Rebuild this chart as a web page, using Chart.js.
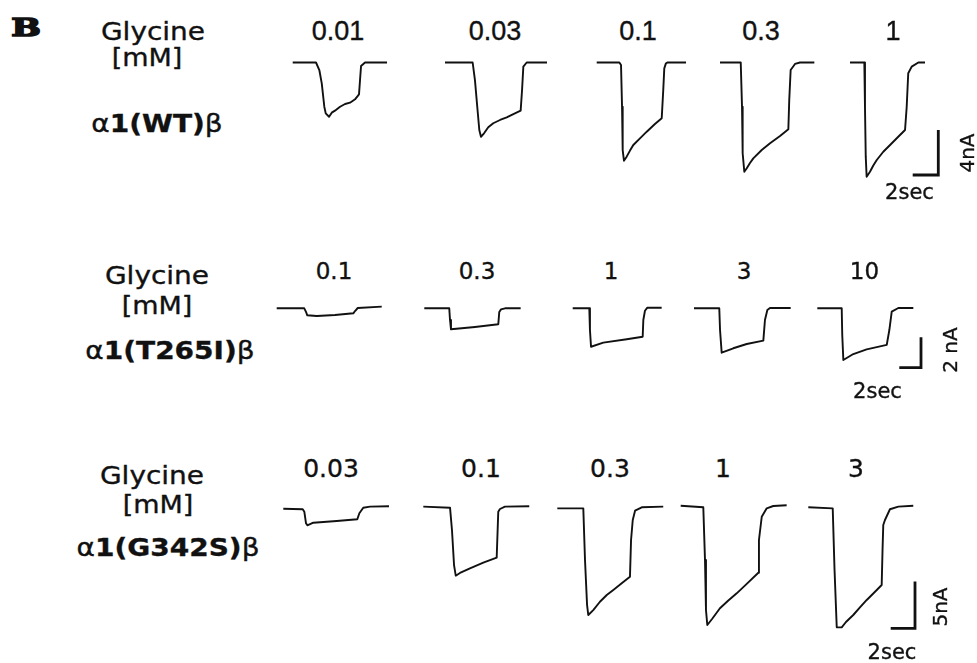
<!DOCTYPE html>
<html>
<head>
<meta charset="utf-8">
<script src="https://cdn.jsdelivr.net/npm/chart.js@4.4.1/dist/chart.umd.min.js"></script>
<style>
  html, body { margin:0; padding:0; background:#fff; }
  #fig { position:relative; width:977px; height:663px; overflow:hidden; background:#fff; }
  #fig canvas { position:absolute; }
  .lbl { position:absolute; white-space:nowrap; color:#111; line-height:1; -webkit-text-stroke:0.35px #111; }
</style>
</head>
<body>
<div id="fig"></div>
<script>
// ---------------- DATA ----------------
// Glycine concentrations (mM) per construct
const wtConc   = ["0.01", "0.03", "0.1", "0.3", "1"];
const t265Conc = ["0.1", "0.3", "1", "3", "10"];
const g342Conc = ["0.03", "0.1", "0.3", "1", "3"];

// Construct names: [plain prefix, bold part, plain suffix]
const constructNames = [["α", "1(WT)", "β"], ["α", "1(T265I)", "β"], ["α", "1(G342S)", "β"]];

// Scale bars per row
const scaleBarSec = [2, 2, 2];
const scaleBarNA  = [4, 2, 5];
const scaleBarNALabels  = ["4nA", "2 nA", "5nA"];
const scaleBarSecLabels = ["2sec", "2sec", "2sec"];

// Current traces: [time (s), current (nA)]
// α1(WT)β
const wt_0_01 = [[0,0],[1.82,0],[2.08,-0.67],[2.27,-1.85],[2.47,-3.93],[2.58,-4.52],[2.84,-4.82],[3.05,-4.46],[3.30,-4.28],[3.70,-3.93],[4.09,-3.69],[4.48,-3.57],[4.87,-3.27],[5.18,-2.83],[5.26,-1.56],[5.34,-0.31],[5.65,0],[7.37,0]];
const wt_0_03 = [[0,0],[2.16,0],[2.34,-1.56],[2.52,-3.93],[2.68,-6.0],[2.81,-6.6],[3.05,-6.29],[3.38,-5.76],[3.77,-5.40],[4.30,-5.11],[4.82,-4.87],[5.34,-4.58],[5.91,-4.28],[6.02,-2.44],[6.12,-0.37],[6.38,0],[7.97,0]];
const wt_0_1  = [[0,0],[1.77,0],[1.90,-0.22],[1.98,-3.93],[2.03,-7.78],[2.13,-8.73],[2.34,-8.37],[2.60,-7.83],[2.86,-7.33],[3.38,-6.74],[3.91,-6.15],[4.55,-5.47],[5.08,-4.96],[5.20,-2.44],[5.28,-0.52],[5.40,-0.10],[5.52,0],[6.98,0]];
const wt_0_3  = [[0,0],[1.62,0],[1.72,-3.93],[1.77,-8.07],[1.90,-9.71],[2.09,-9.40],[2.33,-8.96],[2.60,-8.52],[3.26,-7.78],[3.91,-7.18],[4.69,-6.53],[5.34,-5.94],[5.41,-3.33],[5.52,-0.67],[5.86,-0.13],[6.25,0],[7.37,0]];
const wt_1    = [[0,0],[1.12,0],[1.17,-3.93],[1.23,-8.37],[1.30,-10.15],[1.56,-9.71],[1.82,-9.16],[2.09,-8.67],[2.60,-7.93],[3.13,-7.33],[3.77,-6.60],[4.30,-6.00],[4.43,-3.93],[4.55,-0.96],[4.82,-0.37],[5.34,0],[5.86,0]];
// α1(T265I)β
const t265_0_1 = [[0,0],[2.54,0],[2.70,-0.24],[2.82,-0.46],[3.69,-0.51],[5.37,-0.44],[7.06,-0.33],[7.22,-0.18],[7.47,0.02],[9.68,0.11]];
const t265_0_3 = [[0,0],[2.30,0],[2.37,-0.77],[2.46,-1.38],[4.67,-1.23],[6.82,-1.05],[6.91,-0.24],[7.07,-0.07],[7.44,0],[8.88,0]];
const t265_1   = [[0,0],[1.53,0],[1.59,-1.43],[1.69,-2.53],[2.82,-2.26],[4.98,-2.04],[6.45,-1.87],[6.51,-0.77],[6.66,-0.16],[6.88,0.04],[8.20,0.04]];
const t265_3   = [[0,0],[2.33,0],[2.40,-1.43],[2.55,-2.92],[3.62,-2.63],[4.86,-2.35],[6.39,-2.13],[6.54,-0.77],[6.76,-0.11],[7.00,0.02],[8.91,0.02]];
const t265_10  = [[0,0],[2.25,0],[2.30,-1.76],[2.40,-3.40],[3.32,-3.01],[4.55,-2.70],[6.40,-2.41],[6.64,-1.43],[6.86,-0.22],[7.47,0.02],[8.85,0.02]];
// α1(G342S)β
const g342_0_03 = [[0,-0.13],[1.60,-0.19],[1.73,-0.45],[1.87,-1.69],[1.98,-1.91],[2.47,-1.63],[4.40,-1.45],[6.09,-1.26],[6.26,-0.62],[6.58,-0.02],[7.14,0.09],[8.70,0.13]];
const g342_0_1  = [[0,0.09],[2.20,-0.02],[2.36,-2.41],[2.53,-6.16],[2.67,-7.30],[3.02,-7.01],[3.84,-6.51],[4.94,-5.91],[6.04,-5.37],[6.17,-0.45],[6.31,-0.16],[6.72,0.09],[8.72,0.13]];
const g342_0_3  = [[0,-0.09],[2.14,-0.09],[2.28,-5.62],[2.45,-10.44],[2.55,-11.51],[2.96,-10.98],[3.51,-10.09],[4.07,-9.37],[4.61,-8.83],[5.30,-8.12],[5.98,-7.41],[6.07,-3.48],[6.21,-1.34],[6.40,-0.34],[6.95,0.02],[8.72,0.09]];
const g342_1    = [[0,0.19],[1.86,0.02],[2.00,-5.62],[2.08,-10.97],[2.19,-12.58],[2.58,-11.94],[3.23,-10.79],[3.92,-9.95],[4.61,-9.19],[5.50,-8.10],[6.39,-6.98],[6.44,-3.48],[6.67,-0.99],[7.08,-0.09],[7.62,0.16],[8.72,0.24]];
const g342_3    = [[0,0.02],[2.01,-0.09],[2.16,-6.69],[2.34,-12.83],[2.75,-12.83],[3.10,-12.26],[3.70,-11.51],[4.25,-10.70],[4.81,-9.90],[5.43,-9.10],[6.04,-8.30],[6.11,-4.55],[6.17,-1.87],[6.31,-1.34],[6.72,-0.19],[7.41,0.09],[8.64,0.19]];

const rowTraces = [
  [wt_0_01, wt_0_03, wt_0_1, wt_0_3, wt_1],
  [t265_0_1, t265_0_3, t265_1, t265_3, t265_10],
  [g342_0_03, g342_0_1, g342_0_3, g342_1, g342_3]
];
const rowConc = [wtConc, t265Conc, g342Conc];

// ---------------- LAYOUT (pixels) ----------------
const LAYOUT = [
  { pxPerSec:12.8,  pxPerNA:11.25, baseY:62.5,  x0:[292.7,445,596.7,720,850],
    bar:[938.3,175], concX:[338,495,638,761,893], concBase:41, concFont:'"Liberation Sans", Arial, sans-serif', concSize:27,
    gly:[153,40], mm:[147,66], name:[157,132], secLbl:[909.5,200], naLbl:[967,153] },
  { pxPerSec:10.85, pxPerNA:15.2,  baseY:308.3, x0:[276.7,424.3,572.7,694,817.3],
    bar:[921,367.7], concX:[334,477,611,744,864.5], concBase:279, concFont:'"DejaVu Sans", Verdana, sans-serif', concSize:23,
    gly:[157,284], mm:[157,314], name:[170,359], secLbl:[877.5,399], naLbl:[950,350] },
  { pxPerSec:12.15, pxPerNA:9.34,  baseY:507.5, x0:[283.3,423.3,557.3,680.7,808.3],
    bar:[915,628.3], concX:[331,481,610,723,856], concBase:477, concFont:'"DejaVu Sans", Verdana, sans-serif', concSize:25,
    gly:[152,484], mm:[157.5,513], name:[168,556], secLbl:[892,660], naLbl:[940,607] }
];

const fig = document.getElementById('fig');
const INK = '#111';

function makeLineChart(pts, x0, baseY, L, width, join) {
  const pad = 6;
  const ts = pts.map(p => p[0]), is = pts.map(p => p[1]);
  const tMin = Math.min(0, ...ts), tMax = Math.max(...ts);
  const iMin = Math.min(0, ...is), iMax = Math.max(0, ...is);
  const left = Math.floor(x0 + tMin * L.pxPerSec - pad);
  const top = Math.floor(baseY - iMax * L.pxPerNA - pad);
  const w = Math.ceil((x0 + tMax * L.pxPerSec + pad) - left);
  const h = Math.ceil((baseY - iMin * L.pxPerNA + pad) - top);
  const cv = document.createElement('canvas');
  cv.width = w; cv.height = h;
  cv.style.left = left + 'px'; cv.style.top = top + 'px';
  cv.style.width = w + 'px'; cv.style.height = h + 'px';
  fig.appendChild(cv);
  const xmin = (left - x0) / L.pxPerSec, xmax = (left + w - x0) / L.pxPerSec;
  const ymax = (baseY - top) / L.pxPerNA, ymin = (baseY - top - h) / L.pxPerNA;
  new Chart(cv, {
    type: 'line',
    data: { datasets: [{ data: pts.map(p => ({ x: p[0], y: p[1] })), borderColor: INK, borderWidth: width,
      pointRadius: 0, tension: 0, fill: false, borderJoinStyle: join, borderCapStyle: 'butt' }] },
    options: {
      responsive: false, animation: false, devicePixelRatio: 1, events: [],
      layout: { padding: 0 },
      plugins: { legend: { display: false }, tooltip: { enabled: false } },
      scales: {
        x: { type: 'linear', display: false, min: xmin, max: xmax },
        y: { type: 'linear', display: false, min: ymin, max: ymax }
      }
    }
  });
}

function label(html, cx, base, size, family, opts) {
  opts = opts || {};
  const d = document.createElement('div');
  d.className = 'lbl';
  d.innerHTML = html;
  d.style.fontFamily = family;
  d.style.fontSize = size + 'px';
  if (opts.weight) d.style.fontWeight = opts.weight;
  if (opts.stroke) d.style.webkitTextStroke = opts.stroke + 'px #111';
  const sx = opts.sx || 1;
  if (opts.rotate) {
    d.style.left = cx + 'px'; d.style.top = base + 'px';
    d.style.transform = 'translate(-50%,-50%) rotate(-90deg)';
  } else {
    d.style.left = cx + 'px';
    d.style.top = (base - 0.846 * size) + 'px';
    d.style.transform = 'translateX(-50%) scaleX(' + sx + ')';
    d.style.transformOrigin = '50% 0';
  }
  fig.appendChild(d);
  return d;
}

const SANS = '"DejaVu Sans", Verdana, sans-serif';

// Panel letter
label('B', 26, 36.5, 25, '"DejaVu Serif", serif', { weight: 900, sx: 1.4, stroke: 1.6 });

rowTraces.forEach((traces, r) => {
  const L = LAYOUT[r];
  traces.forEach((pts, k) => makeLineChart(pts, L.x0[k], L.baseY, L, 1.9, 'round'));
  // scale bar: L-shape with corner at bottom-right
  const sec = scaleBarSec[r], na = scaleBarNA[r];
  makeLineChart([[0, 0], [sec, 0], [sec, na]], L.bar[0] - sec * L.pxPerSec, L.bar[1], L, 2.8, 'miter');
  // labels
  label('Glycine', L.gly[0], L.gly[1], 25, SANS, { sx: 1.12 });
  label('[mM]', L.mm[0], L.mm[1], 25, SANS, { sx: 1.08 });
  const n = constructNames[r];
  label(n[0] + '<b>' + n[1] + '</b>' + n[2], L.name[0], L.name[1], 25, SANS, { sx: 1.12 });
  rowConc[r].forEach((c, k) => label(c, L.concX[k], L.concBase, L.concSize, L.concFont));
  label(scaleBarSecLabels[r], L.secLbl[0], L.secLbl[1], 21, SANS);
  label(scaleBarNALabels[r], L.naLbl[0], L.naLbl[1], 20, SANS, { rotate: true });
});
</script>
</body>
</html>
